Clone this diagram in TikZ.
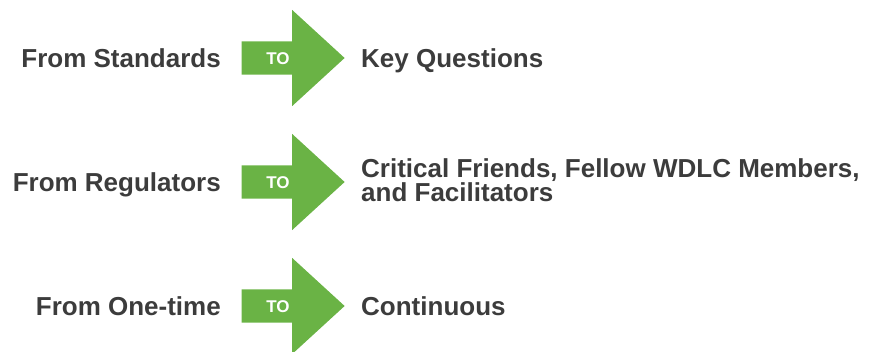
\documentclass[tikz,border=0pt]{standalone}
\usepackage{fontspec}
\setmainfont{Liberation Sans}
\usetikzlibrary{shapes.arrows, positioning}
\definecolor{togreen}{HTML}{6AB345}
\definecolor{txtgray}{HTML}{3C3C3C}
\tikzstyle{from} = [anchor=base east, inner sep=0pt, font=\fontsize{26}{24}\selectfont\bfseries, text=txtgray]
\tikzstyle{dest} = [anchor=base west, inner sep=0pt, align=left, font=\fontsize{26}{24}\selectfont\bfseries, text=txtgray]
\tikzstyle{toarrow} = [single arrow, fill=togreen, single arrow head extend=31.5pt, single arrow tip angle=85, minimum height=103pt, text height=12.5pt, text depth=0pt, inner ysep=10.25pt, inner xsep=0pt, text=white, font=\fontsize{17}{17}\selectfont\bfseries]

\begin{document}
\begin{tikzpicture}[x=1pt, y=1pt]
\useasboundingbox (0,0) rectangle (875,-352);
\node (arr1) [toarrow] at (284,-58) {TO\hspace*{12pt}};
\node (arr2) [toarrow] at (284,-182) {TO\hspace*{12pt}};
\node (arr3) [toarrow] at (284,-306) {TO\hspace*{12pt}};

\node (from1) [from] at (221,-68) {From Standards};
\node (from2) [from] at (221,-192) {From Regulators};
\node (from3) [from] at (221,-316) {From One-time};

\node (dest1) [dest] at (361,-68) {Key Questions};
\node (dest2) [dest] at (361,-202) {Critical Friends, Fellow WDLC Members,\\and Facilitators};
\node (dest3) [dest] at (361,-316) {Continuous};
\end{tikzpicture}
\end{document}
